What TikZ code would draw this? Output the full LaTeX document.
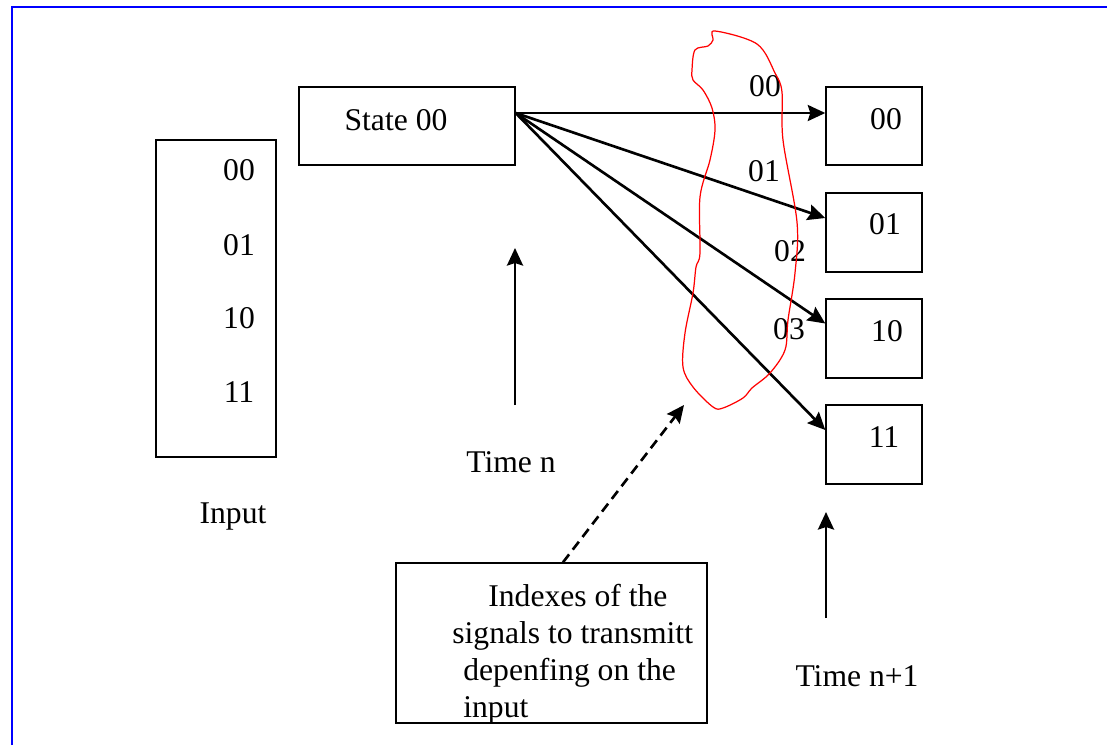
\documentclass[tikz,border=0pt]{standalone}
\usepackage{fontspec}
\setmainfont{Liberation Serif}
\usetikzlibrary{arrows.meta}

\begin{document}
\begin{tikzpicture}[x=0.02cm, y=-0.02cm, font=\fontsize{18}{21}\selectfont,
		box/.style={draw, line width=0.8pt, inner sep=0pt},
		txt/.style={inner sep=0pt},
		arr/.style={-{Stealth[length=0.35cm, width=0.32cm, inset=0.05cm]}, line width=1.5pt}]
	\useasboundingbox (0,0) rectangle (1107,745);
	\draw[blue, line width=1.2pt] (12,745) -- (12,7) -- (1107,7);

	% input column
	\node[box, minimum width=2.4cm, minimum height=6.34cm] (inbox) at (216,298.5) {};
	\node[txt] (in00) at (239,170) {00};
	\node[txt] (in01) at (239,245) {01};
	\node[txt] (in10) at (239,318) {10};
	\node[txt] (in11) at (239,392) {11};
	\node[txt] (input) at (233,517) {Input};

	% current state
	\node[box, minimum width=4.32cm, minimum height=1.56cm] (state) at (407,126) {};
	\node[txt] (statetxt) at (396,120) {State 00};
	\coordinate (src) at ([yshift=0.26cm]state.east);

	% next states
	\node[box, minimum width=1.92cm, minimum height=1.56cm] (n00) at (874,126) {};
	\node[box, minimum width=1.92cm, minimum height=1.58cm] (n01) at (874,232.5) {};
	\node[box, minimum width=1.92cm, minimum height=1.58cm] (n10) at (874,338.5) {};
	\node[box, minimum width=1.92cm, minimum height=1.58cm] (n11) at (874,444.5) {};
	\node[txt] (t00) at (886,119) {00};
	\node[txt] (t01) at (885,224) {01};
	\node[txt] (t10) at (887,331) {10};
	\node[txt] (t11) at (884,437) {11};

	\draw[arr] (src) -- ([yshift=0.26cm]n00.west);
	\draw[arr] (src) -- ([yshift=0.29cm]n01.west);
	\draw[arr] (src) -- ([yshift=0.3cm]n10.west);
	\draw[arr] (src) -- ([yshift=0.29cm]n11.west);

	\node[txt] (i00) at (765,86) {00};
	\node[txt] (i01) at (764,171) {01};
	\node[txt] (i02) at (790,251) {02};
	\node[txt] (i03) at (789,329) {03};

	% group of indexes
	\draw[red, line width=0.7pt] plot[smooth cycle, tension=0.55] coordinates {
		(715,31) (757,44) (775,73) (782,92) (783,140) (797,222) (795,273)
		(788,320) (785,350) (770,373) (752,388) (743,398) (723,408) (713,407)
		(693,387) (683,367) (685,333) (693,293) (696,267) (700,253) (700,197)
		(710,160) (715,130) (712,108) (703,90) (693,80) (692,70) (695,50)
		(708,46) (713,40)};

	% time markers
	\coordinate (tn) at (515,405);
	\coordinate (tntop) at (515,248);
	\draw[arr] (tn) -- (tntop);
	\node[txt] (timen) at (511,462) {Time n};
	\coordinate (tm) at (826,618);
	\coordinate (tmtop) at (826,512);
	\draw[arr] (tm) -- (tmtop);
	\node[txt] (timem) at (857,676) {Time n+1};

	% note
	\node[box, minimum width=6.22cm, minimum height=3.2cm] (note) at (551.5,643) {};
	\node[txt, align=left, anchor=north west] (notetxt) at (452,584)
		{\hspace*{0.72cm}Indexes of the\\signals to transmitt\\\hspace*{0.22cm}depenfing on the\\\hspace*{0.22cm}input};
	\coordinate (grp) at (684,405);
	\draw[arr, dash pattern=on 0.2cm off 0.12cm] ([xshift=0.23cm]note.north) -- (grp);
\end{tikzpicture}
\end{document}
